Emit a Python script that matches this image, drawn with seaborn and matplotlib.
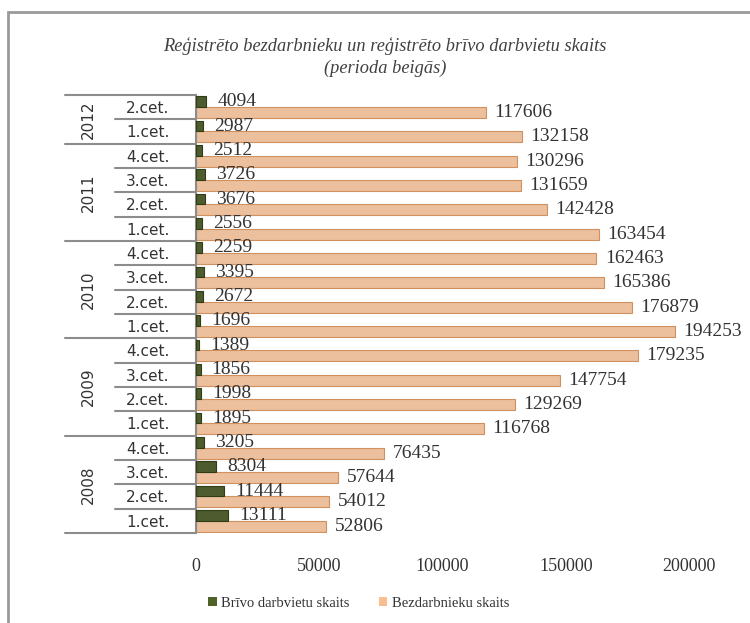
import pandas as pd
import matplotlib.pyplot as plt
import matplotlib.transforms as mtransforms
from matplotlib.patches import Rectangle, Patch
import seaborn as sns

# --- Data (top of chart to bottom) ---
years = ['2012', '2012',
         '2011', '2011', '2011', '2011',
         '2010', '2010', '2010', '2010',
         '2009', '2009', '2009', '2009',
         '2008', '2008', '2008', '2008']
quarters = ['2.cet.', '1.cet.',
            '4.cet.', '3.cet.', '2.cet.', '1.cet.',
            '4.cet.', '3.cet.', '2.cet.', '1.cet.',
            '4.cet.', '3.cet.', '2.cet.', '1.cet.',
            '4.cet.', '3.cet.', '2.cet.', '1.cet.']
vacancies = [4094, 2987,
             2512, 3726, 3676, 2556,
             2259, 3395, 2672, 1696,
             1389, 1856, 1998, 1895,
             3205, 8304, 11444, 13111]
unemployed = [117606, 132158,
              130296, 131659, 142428, 163454,
              162463, 165386, 176879, 194253,
              179235, 147754, 129269, 116768,
              76435, 57644, 54012, 52806]
series_names = ['Brīvo darbvietu skaits', 'Bezdarbnieku skaits']
colors = ['#4f6228', '#f9bd90']
edge_colors = ['#2e3d14', '#d0915f']
title = 'Reģistrēto bezdarbnieku un reģistrēto brīvo darbvietu skaits\n(perioda beigās)'

periods = [f'{y} {q}' for y, q in zip(years, quarters)]
df = pd.DataFrame({
    'period': periods * 2,
    'series': [series_names[0]] * len(periods) + [series_names[1]] * len(periods),
    'value': vacancies + unemployed,
})

sns.set_theme(style='white')
plt.rcParams['font.family'] = ['Liberation Serif', 'DejaVu Serif']

fig = plt.figure(figsize=(7.5, 6.23), dpi=100)
ax = fig.add_axes([196 / 750, 1 - 533 / 623, 493 / 750, 438 / 623])

sns.barplot(data=df, y='period', x='value', hue='series', order=periods,
            hue_order=series_names, palette=colors, orient='h', width=0.9,
            dodge=True, ax=ax, legend=False)

for cont, ec in zip(ax.containers, edge_colors):
    for bar in cont:
        bar.set_edgecolor(ec)
        bar.set_linewidth(0.8)
# green bars drawn on top
for bar in ax.containers[0]:
    bar.set_zorder(3)

ax.bar_label(ax.containers[0], padding=8, fontsize=14, color='#333333', zorder=4)
ax.bar_label(ax.containers[1], padding=6, fontsize=14, color='#333333')

n = len(periods)
ax.set_xlim(0, 200000)
ax.set_xticks([0, 50000, 100000, 150000, 200000])
ax.set_xlabel('')
ax.set_ylabel('')
ax.tick_params(axis='x', length=0, pad=18, labelsize=13, labelcolor='#333333')
ax.set_yticks(range(n))
ax.set_yticklabels(quarters, fontfamily='DejaVu Sans', fontsize=11, color='#333333')
ax.tick_params(axis='y', length=0, pad=19)

for side in ['top', 'right', 'bottom']:
    ax.spines[side].set_visible(False)
ax.spines['left'].set_color('#8c8c8c')
ax.spines['left'].set_linewidth(1.5)

# hierarchical category axis: separators and year labels
trans = mtransforms.blended_transform_factory(ax.transAxes, ax.transData)
for k in range(n + 1):
    is_year_edge = k == 0 or k == n or years[k] != years[k - 1]
    x0 = -0.266 if is_year_edge else -0.164
    ax.plot([x0, 0], [k - 0.5, k - 0.5], color='#8c8c8c', lw=1.5,
            transform=trans, clip_on=False)

start = 0
for k in range(1, n + 1):
    if k == n or years[k] != years[start]:
        ax.text(-0.219, (start + k - 1) / 2, years[start], rotation=90,
                ha='center', va='center', fontsize=11, color='#333333',
                family='DejaVu Sans', transform=trans)
        start = k

ax.set_ylim(n - 0.5, -0.5)

fig.text(0.513, 0.908, title, ha='center', va='center', fontsize=13.2,
         style='italic', color='#404040', linespacing=1.35)

handles = [Patch(facecolor=c, edgecolor='none') for c in colors]
fig.legend(handles, series_names, loc='center', bbox_to_anchor=(0.478, 0.032),
           ncol=2, frameon=False, fontsize=10.5, handlelength=0.6,
           handleheight=0.6, handletextpad=0.3, columnspacing=2.0,
           labelcolor='#333333')

# outer chart frame
fig.patches.append(Rectangle((8 / 750, -0.1), 1.2, 1 - 12 / 623 + 0.1,
                             transform=fig.transFigure, fill=False,
                             edgecolor='#9a9a9a', lw=2))

fig.savefig('out.png', dpi=100)
